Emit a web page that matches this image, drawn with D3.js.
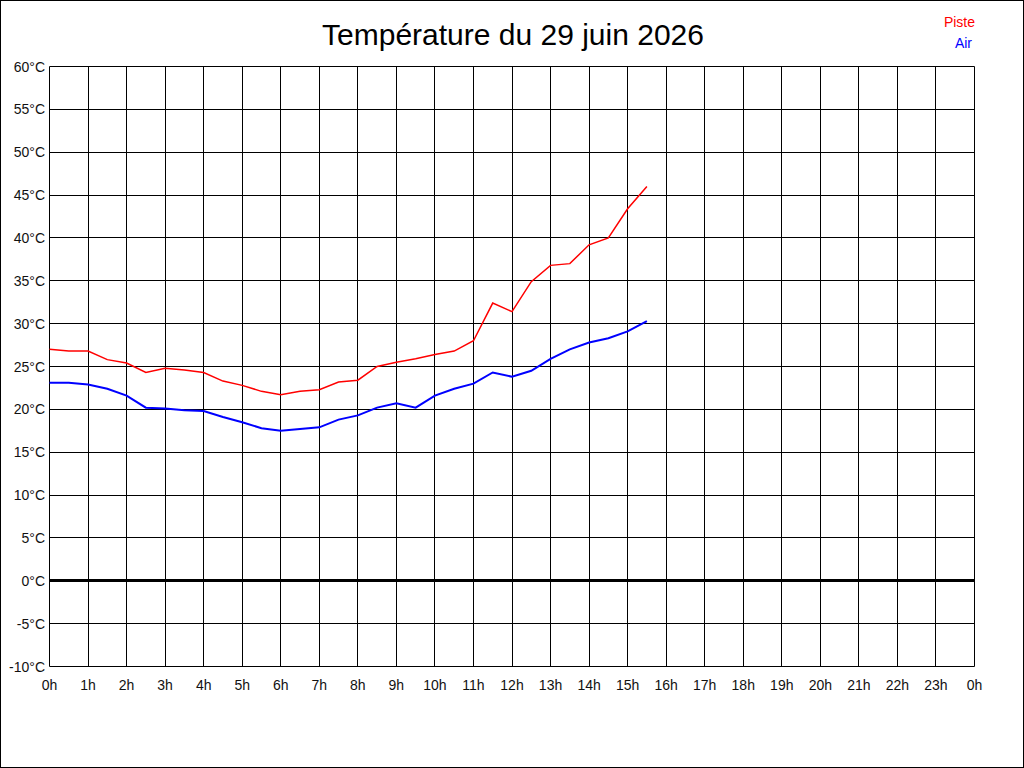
<!DOCTYPE html>
<html>
<head>
<meta charset="utf-8">
<script src="https://cdn.jsdelivr.net/npm/d3@7"></script>
<style>
  body { margin: 0; background: #fff; }
  svg { display: block; font-family: "Liberation Sans", Arial, sans-serif; }
</style>
</head>
<body>
<svg id="chart" width="1024" height="768"></svg>
<script>
// hours of the day, one sample every 30 min
const hours = d3.range(0, 16, 0.5);

// Piste (track) temperature
const piste = [27.0, 26.8, 26.8, 25.8, 25.4, 24.3, 24.8, 24.6, 24.3, 23.3, 22.8, 22.1, 21.7, 22.1, 22.3, 23.2,
               23.4, 25.0, 25.5, 25.9, 26.4, 26.8, 28.0, 32.4, 31.4, 34.9, 36.8, 37.0, 39.2, 40.0, 43.4, 46.0];

// Air temperature
const air = [23.1, 23.1, 22.9, 22.4, 21.6, 20.2, 20.1, 19.9, 19.8, 19.1, 18.5, 17.8, 17.5, 17.7, 17.9, 18.8,
             19.3, 20.2, 20.7, 20.2, 21.6, 22.4, 23.0, 24.3, 23.8, 24.5, 25.9, 27.0, 27.8, 28.3, 29.1, 30.3];

const hourTicks = d3.range(0, 25);
const tempTicks = d3.range(-10, 61, 5);

const svg = d3.select("#chart");

// outer frame
svg.append("rect")
  .attr("x", 0.5).attr("y", 0.5)
  .attr("width", 1023).attr("height", 767)
  .attr("fill", "#fff").attr("stroke", "#000");

let x = d3.scaleLinear().domain([0, 24]).range([49.5, 974.5]);
let y = d3.scaleLinear().domain([-10, 60]).range([666.5, 66.5]);

// grid
svg.append("g")
  .selectAll("line")
  .data(hourTicks)
  .join("line")
  .attr("x1", d => Math.round(x(d) - 0.5) + 0.5)
  .attr("x2", d => Math.round(x(d) - 0.5) + 0.5)
  .attr("y1", y(60)).attr("y2", y(-10))
  .attr("stroke", "#000");

svg.append("g")
  .selectAll("line")
  .data(tempTicks)
  .join("line")
  .attr("x1", x(0)).attr("x2", x(24))
  .attr("y1", d => Math.round(y(d) - 0.5) + 0.5)
  .attr("y2", d => Math.round(y(d) - 0.5) + 0.5)
  .attr("stroke", "#000")
  .attr("stroke-width", d => d === 0 ? 3 : 1);

// tick labels
svg.append("g")
  .selectAll("text")
  .data(tempTicks)
  .join("text")
  .attr("x", 45)
  .attr("y", d => y(d) + 5)
  .attr("text-anchor", "end")
  .attr("font-size", 14)
  .attr("fill", "#111")
  .text(d => d + "°C");

svg.append("g")
  .selectAll("text")
  .data(hourTicks)
  .join("text")
  .attr("x", d => x(d))
  .attr("y", 690)
  .attr("text-anchor", "middle")
  .attr("font-size", 14)
  .attr("fill", "#111")
  .text(d => (d % 24) + "h");

// series lines
const line = d3.line()
  .x((d, i) => x(hours[i]))
  .y(d => y(d));

svg.append("path")
  .datum(piste)
  .attr("d", line)
  .attr("fill", "none")
  .attr("stroke", "#f00")
  .attr("stroke-width", 1.5);

svg.append("path")
  .datum(air)
  .attr("d", line)
  .attr("fill", "none")
  .attr("stroke", "#00f")
  .attr("stroke-width", 2);

// title
svg.append("text")
  .attr("x", 513).attr("y", 45)
  .attr("text-anchor", "middle")
  .attr("font-size", 30)
  .text("Température du 29 juin 2026");

// legend
svg.append("text")
  .attr("x", 975).attr("y", 27)
  .attr("text-anchor", "end")
  .attr("font-size", 14)
  .attr("fill", "#f00")
  .text("Piste");

svg.append("text")
  .attr("x", 972).attr("y", 48)
  .attr("text-anchor", "end")
  .attr("font-size", 14)
  .attr("fill", "#00f")
  .text("Air");
</script>
</body>
</html>
